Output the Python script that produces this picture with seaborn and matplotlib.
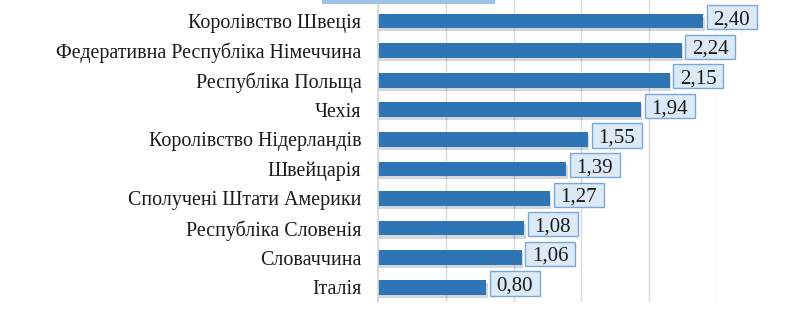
import matplotlib
matplotlib.use("Agg")
import matplotlib.pyplot as plt
import matplotlib.patheffects as pe
import matplotlib.transforms as mtransforms
from matplotlib.patches import Rectangle
import seaborn as sns
import pandas as pd

countries = [
    "Королівство Швеція",
    "Федеративна Республіка Німеччина",
    "Республіка Польща",
    "Чехія",
    "Королівство Нідерландів",
    "Швейцарія",
    "Сполучені Штати Америки",
    "Республіка Словенія",
    "Словаччина",
    "Італія",
]
values = [2.40, 2.24, 2.15, 1.94, 1.55, 1.39, 1.27, 1.08, 1.06, 0.80]

df = pd.DataFrame({"country": countries, "value": values})

sns.set_theme(style="white")
plt.rcParams["font.family"] = ["Liberation Serif", "DejaVu Serif"]

fig = plt.figure(figsize=(8.03, 3.36), dpi=100)
ax = fig.add_axes([378 / 803, 1 - 302 / 336, (717 - 378) / 803, 302 / 336])

sns.barplot(data=df, x="value", y="country", orient="h", color="#2e75b6",
            width=0.5, saturation=1, ax=ax)
for p in ax.patches:
    p.set_path_effects([pe.SimplePatchShadow(offset=(0.8, -2.2), alpha=0.18), pe.Normal()])
    p.set_edgecolor("none")

ax.set_xlim(0, 2.5)
ax.set_ylim(9.5, -0.71)
ax.set_xticks([0, 0.5, 1.0, 1.5, 2.0, 2.5])
ax.xaxis.grid(True, color="#d9d9d9", linewidth=1)
ax.set_axisbelow(True)
ax.tick_params(axis="x", labelbottom=False, length=0)
ax.tick_params(axis="y", length=0, pad=12, labelsize=14.4, labelcolor="#1a1a1a")
ax.set_xlabel("")
ax.set_ylabel("")
for s in ["top", "right", "bottom"]:
    ax.spines[s].set_visible(False)
ax.spines["left"].set_color("#d9d9d9")

pt = fig.dpi / 72.0
for i, v in enumerate(values):
    tr = mtransforms.Affine2D().scale(pt) + mtransforms.ScaledTranslation(v, i, ax.transData)
    box = Rectangle((2.5, -6.0), 36, 17.5, transform=tr, facecolor="#dce9f7",
                    edgecolor="#7ba7d7", linewidth=1, clip_on=False, zorder=3)
    ax.add_patch(box)
    ax.annotate(f"{v:.2f}".replace(".", ","), xy=(v, i), xytext=(20.5, 0.8),
                textcoords="offset points", ha="center", va="center",
                fontsize=15, color="#1a1a1a", annotation_clip=False, zorder=4)

fig.patches.append(Rectangle((322 / 803, 1 - 4 / 336), 173 / 803, 4 / 336,
                             transform=fig.transFigure, facecolor="#9dc3e6",
                             edgecolor="none"))

fig.savefig("out.png", dpi=100)
